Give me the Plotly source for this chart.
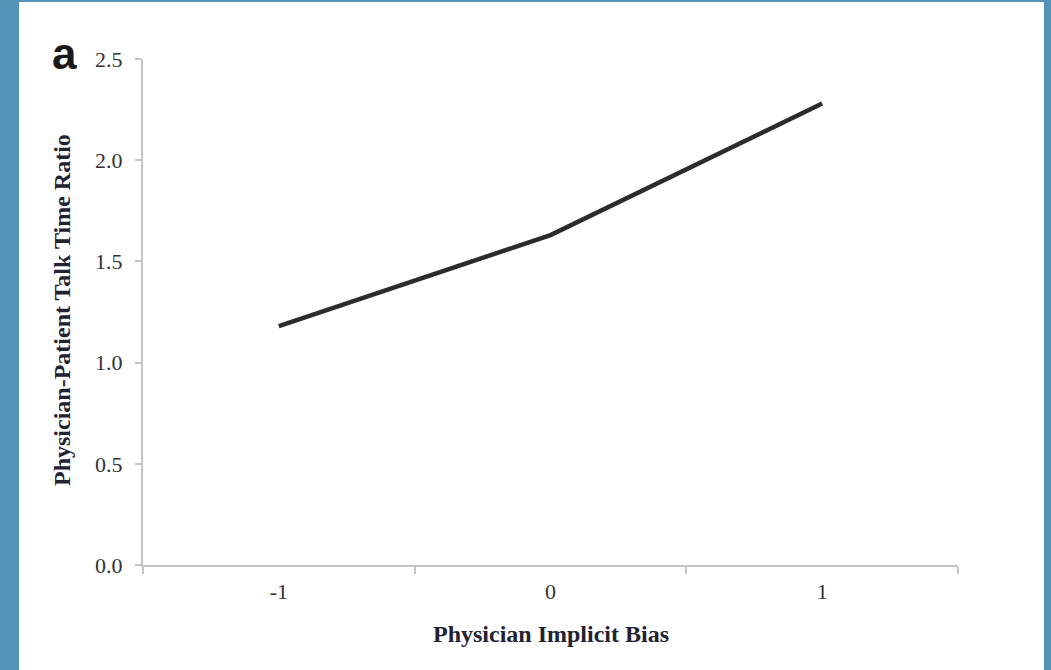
import plotly.graph_objects as go

categories = ["-1", "0", "1"]
talk_ratio = [1.18, 1.63, 2.28]
y_ticks = [0.0, 0.5, 1.0, 1.5, 2.0, 2.5]

W, H = 1051, 670
L, R, T, B = 143, W - 958, 59, H - 565
pw, ph = W - L - R, H - T - B

def px(x):
    return (x - L) / pw

def py(y):
    return (H - B - y) / ph

fig = go.Figure()
fig.add_trace(go.Scatter(
    x=categories, y=talk_ratio, mode="lines",
    line=dict(color="#2b2b30", width=4.5), showlegend=False, hoverinfo="skip"))

serif = "Liberation Serif, Times New Roman, serif"
fig.update_layout(
    width=W, height=H,
    margin=dict(l=L, r=R, t=T, b=B),
    paper_bgcolor="#5194b6",
    plot_bgcolor="white",
    shapes=[dict(type="rect", xref="paper", yref="paper", layer="below",
                 x0=px(19), x1=px(1044), y0=py(672), y1=py(2),
                 fillcolor="white", line=dict(width=0))],
    xaxis=dict(type="category", tickson="boundaries", showgrid=False,
               showline=True, linecolor="#c4c4c4", linewidth=2,
               ticks="outside", ticklen=7, tickcolor="#c4c4c4", tickwidth=2,
               tickfont=dict(family=serif, size=22, color="#333333"),
               ticklabelstandoff=6, range=[-0.5, 2.5], zeroline=False),
    yaxis=dict(range=[0, 2.5], tickvals=y_ticks, tickformat=".1f", showgrid=False,
               showline=True, linecolor="#c4c4c4", linewidth=2,
               ticks="outside", ticklen=6, tickcolor="#c4c4c4", tickwidth=2,
               tickfont=dict(family=serif, size=22, color="#333333"),
               ticklabelstandoff=8, zeroline=False),
    annotations=[
        dict(text="<b>Physician Implicit Bias</b>", xref="paper", yref="paper",
             x=px(551), y=py(634), xanchor="center", yanchor="middle",
             showarrow=False, font=dict(family=serif, size=24, color="#222233")),
        dict(text="<b>Physician-Patient Talk Time Ratio</b>", xref="paper", yref="paper",
             x=px(62), y=py(310), xanchor="center", yanchor="middle", textangle=-90,
             showarrow=False, font=dict(family=serif, size=24, color="#222233")),
        dict(text="<b>a</b>", xref="paper", yref="paper",
             x=px(64), y=py(53), xanchor="center", yanchor="middle",
             showarrow=False, font=dict(family="Liberation Sans, Arial, sans-serif", size=44, color="#1a1a1a")),
    ],
)

fig.write_html("out.html", config={"displayModeBar": False},
               post_script="document.body.style.margin='0px';document.body.style.overflow='hidden';")
